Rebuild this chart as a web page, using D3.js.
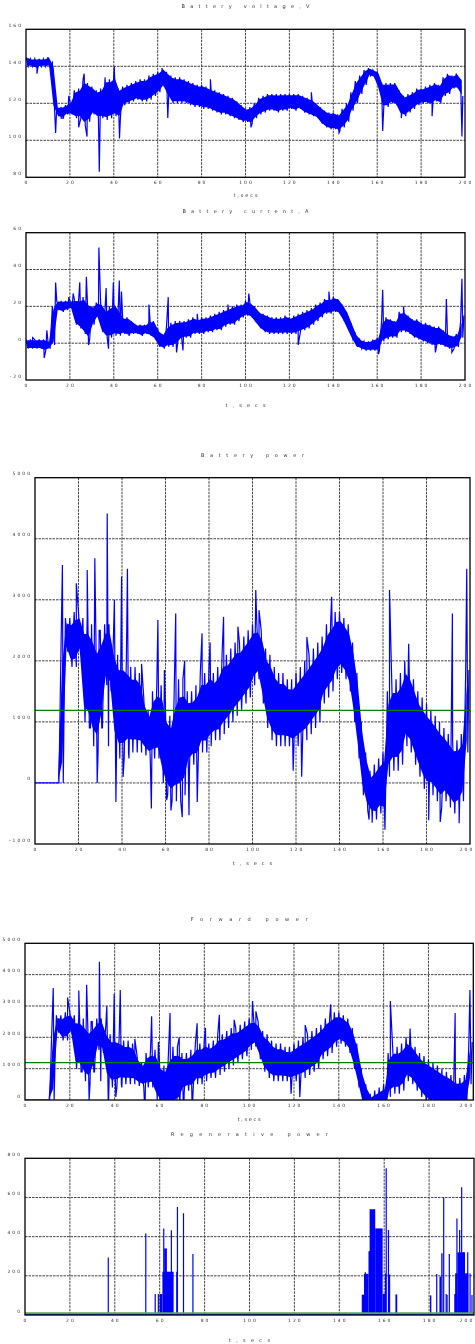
<!DOCTYPE html>
<html>
<head>
<meta charset="utf-8">
<script src="https://cdn.jsdelivr.net/npm/d3@7"></script>
<style>
  body { margin: 0; background: #fff; }
  svg { will-change: transform; }
  text { font-family: "DejaVu Sans", sans-serif; fill: #333; }
</style>
</head>
<body>
<svg id="chart" width="475" height="1344"></svg>
<script>
// sample bins, 2 s each (start time of bin)
const binT = d3.range(0, 200, 2);
const timeTicks = [0, 20, 40, 60, 80, 100, 120, 140, 160, 180, 200];

// battery voltage, V : upper / lower edge of the noisy band per bin
const voltHi = [145,144,144,144,144,145,142,118,118,119,121,127,128,133,131,129,127,128,133,133,
  135,128,129,130,131,132,133,133,135,136,137,139,137,135,134,134,133,132,131,130,
  130,129,128,127,126,125,124,123,121,119,117,118,120,123,124,125,125,125,125,125,
  125,125,125,124,123,122,120,118,116,115,115,114,117,120,126,132,135,138,139,138,
  137,131,131,131,131,127,124,125,126,128,128,129,130,131,130,134,136,135,136,133];
const voltLo = [140,140,139,140,140,140,117,113,112,114,114,112,112,108,110,114,112,112,111,112,
  113,112,119,120,121,122,121,121,122,124,126,129,124,120,120,120,120,119,118,118,
  117,117,116,115,114,114,113,112,111,110,110,109,112,114,115,116,116,115,116,116,
  117,116,117,115,114,113,112,109,107,106,106,105,107,110,116,120,125,130,135,134,
  128,118,118,120,119,114,113,115,117,119,120,120,119,121,120,124,125,128,128,124];
const voltSpikes = [[5,136],[13.5,104],[16,112],[19.5,124],[24,107],[26.5,136],[27.8,102],[33.4,83],
  [36,134],[40.2,140],[42.6,101],[64.6,112],[84,133],[102.5,107],[130,126],[142.6,104],
  [162.5,105],[171,112],[185,113],[198.6,102]];

// battery current, A
const currHi = [2,2,2,2,2,1,20,23,23,23,23,24,24,25,22,20,22,22,18,20,
  22,18,14,14,12,10,10,10,12,12,7,5,9,11,12,12,12,13,14,13,
  14,14,15,16,17,18,19,20,21,21,23,22,20,17,16,15,14,14,14,15,
  14,15,16,17,18,19,21,22,24,24,25,24,21,17,11,5,2,1,1,2,
  3,12,14,13,12,17,17,15,13,13,11,11,10,9,9,7,5,4,5,12];
const currLo = [-3,-3,-3,-3,-4,-3,-1,18,17,18,19,10,8,5,2,10,14,6,3,3,
  4,4,5,4,5,5,4,5,4,2,-2,-3,-2,-2,-1,2,3,3,5,5,
  5,6,6,7,7,9,10,10,12,14,15,14,11,8,6,5,5,5,5,5,
  5,5,6,7,8,10,12,14,16,16,17,16,12,7,2,-2,-3,-4,-4,-4,
  -4,1,2,3,3,6,6,5,3,2,1,0,-1,-2,-1,-2,-3,-3,-2,3];
const currSpikes = [[3,3],[8.3,-8],[9.5,7],[13.5,33],[19.5,25],[21.5,27],[24.5,33],[27.5,36],[28.5,-1],
  [33.2,52],[36.5,30],[37.6,-3],[39.8,33],[42.5,34],[43.5,28],[56,21],[60,8],[64.8,25],[68.6,-5],
  [71.5,-4],[78,16],[92,21],[101.5,27],[124,-1],[138,28],[160.6,-6],[162.5,29],[172,20],
  [186.5,-5],[191.5,24],[194,-5],[198.6,35],[199.5,15]];

// battery power, W (forward power panel shows the same signal above 0)
const powHi = [0,0,0,0,0,0,2300,2700,2700,2800,2800,2700,2700,2600,2400,2500,2600,2600,2300,2100,
  2100,2000,1900,1900,1800,1400,1200,1500,1600,1600,1200,1100,1500,1700,1700,1500,1500,1600,1800,1800,
  1900,1800,1900,2100,2100,2200,2300,2300,2400,2500,2600,2600,2500,2200,2100,1900,1800,1800,1700,1700,
  1800,1900,2000,2100,2200,2300,2400,2600,2700,2800,2800,2700,2600,2300,1800,1000,500,200,300,400,
  500,1500,1700,1700,1800,2000,1900,1700,1500,1400,1300,1200,1100,1000,900,800,700,700,800,1800];
const powLo = [0,0,0,0,0,0,0,2150,1900,1900,2100,1000,900,600,500,900,1600,1500,600,400,
  400,500,500,500,500,450,400,400,400,0,-200,-300,-300,-300,-200,200,300,300,500,500,
  600,700,700,800,900,1000,1100,1200,1300,1400,1600,1700,1300,900,700,600,600,600,600,550,
  600,650,700,800,900,1000,1300,1400,1500,1700,1800,1700,1500,1000,400,-200,-450,-550,-600,-500,
  -550,100,200,200,300,600,500,300,100,-100,-200,-200,-300,-400,-300,-400,-500,-450,-300,500];
const powSpikes = [[12.6,3570],[13.5,1680],[19,3270],[24,3490],[25.5,900],[27.5,3680],[28.6,0],
  [29.5,2500],[30.7,900],[33.2,4415],[33.8,600],[36.5,3000],[37.2,-310],[38,2000],[39.8,3380],
  [40.5,100],[42.5,3510],[43.2,400],[49,1950],[53.5,-420],[56.5,2670],[59.5,1850],[60.5,-280],
  [62.5,-450],[64.7,2775],[67.7,-560],[68.8,2000],[70.8,-530],[74.6,-310],[76.8,2450],[80.5,2300],
  [86.7,2720],[93.3,2560],[101.5,3160],[103,2830],[118.7,200],[122.6,100],[125,2390],[136.4,3050],
  [153.6,-600],[155,-650],[160.9,-765],[163,3160],[171.8,2280],[181,-610],[186.3,-640],
  [191.9,2775],[195,-660],[198.5,3510],[199.5,1850]];
const powMean = 1190;

// regenerative power, W : dense blocks [t0, t1, level] and single spikes [t, level]
const regenBlocks = [[60.0,61.2,107],[61.2,66.2,221],[62.0,63.2,340],[150.0,151.0,104],[151.0,153.0,210],
  [153.0,154.0,326],[153.5,156.0,540],[156.0,159.3,442],[159.3,160.5,107],[165.0,165.8,105],
  [180.4,181.0,100],[184.6,185.4,196],[185.4,186.0,315],[191.2,192.6,107],[191.6,192.6,213],
  [192.6,196.0,320],[196.0,197.5,213],[198.0,198.5,212]];
const regenSpikes = [[37.1,294],[53.8,416],[58.0,107],[59.4,107],[61.8,442],[65.2,433],[67.6,221],
  [67.9,552],[70.6,520],[74.8,311],[151.6,218],[160.6,212],[160.9,749],[161.9,434],[162.4,207],
  [183.4,209],[186.5,600],[187.6,107],[188.0,102],[189.0,311],[192.4,493],[193.6,434],[194.5,652],
  [195.4,320],[197.2,320],[199.1,102]];
const regenMean = 8;

const W = 475;
const svg = d3.select('#chart');

const makePanel = (id, box, yDomain, yTicks, title, titleW, xlab, xlabW, titleY, xlabY) => {
  const x = d3.scaleLinear().domain([0, 200]).range([box.l, box.r]);
  const y = d3.scaleLinear().domain(yDomain).range([box.b, box.t]);
  const g = svg.append('g');
  const cx = (box.l + box.r) / 2;

  g.append('clipPath').attr('id', id)
    .append('rect').attr('x', box.l).attr('y', box.t)
    .attr('width', box.r - box.l).attr('height', box.b - box.t);

  // grid
  g.append('g').selectAll('line').data(timeTicks.slice(1, -1)).enter().append('line')
    .attr('x1', d => x(d)).attr('x2', d => x(d)).attr('y1', box.t).attr('y2', box.b)
    .attr('stroke', '#444').attr('stroke-width', 1).attr('stroke-dasharray', '2.5,1');
  g.append('g').selectAll('line').data(yTicks.slice(1, -1)).enter().append('line')
    .attr('y1', d => y(d)).attr('y2', d => y(d)).attr('x1', box.l).attr('x2', box.r)
    .attr('stroke', '#444').attr('stroke-width', 1).attr('stroke-dasharray', '2.5,1');

  // tick labels (the last one is pulled in when it would run past the page edge)
  g.append('g').selectAll('text').data(timeTicks).enter().append('text')
    .attr('x', d => Math.min(x(d) + 1, W - 8)).attr('y', box.b + 7)
    .attr('text-anchor', 'middle').attr('font-size', '4.5px')
    .attr('letter-spacing', '2px').text(d => d);
  g.append('g').selectAll('text').data(yTicks).enter().append('text')
    .attr('x', box.l - 3).attr('y', d => y(d) - 2.5)
    .attr('text-anchor', 'end').attr('font-size', '4.5px')
    .attr('letter-spacing', '2px').text(d => d);

  g.append('text').attr('x', cx).attr('y', titleY).attr('text-anchor', 'middle')
    .attr('font-size', '5px').attr('textLength', titleW).attr('lengthAdjust', 'spacing')
    .text(title);
  g.append('text').attr('x', cx).attr('y', xlabY).attr('text-anchor', 'middle')
    .attr('font-size', '5px').attr('textLength', xlabW).attr('lengthAdjust', 'spacing')
    .text(xlab);

  const data = g.append('g').attr('clip-path', `url(#${id})`);
  const frame = () => g.append('rect').attr('x', box.l).attr('y', box.t)
    .attr('width', box.r - box.l).attr('height', box.b - box.t)
    .attr('fill', 'none').attr('stroke', '#000').attr('stroke-width', 1.3);
  return { x, y, data, frame };
};

// solid core (share of the band) plus a zigzag through the band edges and spikes
const drawBand = (p, hi, lo, spikes, core) => {
  const inset = (1 - core) / 2;
  const area = d3.area()
    .x((d, i) => p.x(binT[i] + 0.5))
    .y0((d, i) => p.y(lo[i] + (hi[i] - lo[i]) * inset))
    .y1((d, i) => p.y(hi[i] - (hi[i] - lo[i]) * inset));
  p.data.append('path').attr('d', area(hi)).attr('fill', '#0000ff');

  const pts = [];
  hi.forEach((h, i) => {
    pts.push([binT[i], h]);
    pts.push([binT[i] + 1, lo[i]]);
  });
  spikes.forEach(s => pts.push(s));
  pts.sort((a, b) => a[0] - b[0]);
  const line = d3.line().x(d => p.x(d[0])).y(d => p.y(d[1]));
  p.data.append('path').attr('d', line(pts))
    .attr('fill', 'none').attr('stroke', '#0000ff').attr('stroke-width', 1.2);
};

const meanLine = (p, v, w, c) => {
  p.data.append('line').attr('x1', p.x(0)).attr('x2', p.x(200))
    .attr('y1', p.y(v)).attr('y2', p.y(v))
    .attr('stroke', c).attr('stroke-width', w);
};

// 1 battery voltage
const p1 = makePanel('c1', { l: 26, r: 465, t: 29.3, b: 177.3 }, [80, 160], [80, 100, 120, 140, 160],
  'Battery voltage,V', 128, 't,secs', 24, 8, 197);
drawBand(p1, voltHi, voltLo, voltSpikes, 0.85);
p1.frame();

// 2 battery current
const p2 = makePanel('c2', { l: 26, r: 465, t: 232.7, b: 380 }, [-20, 60], [-20, 0, 20, 40, 60],
  'Battery current,A', 126, 't,secs', 40, 212.5, 406.5);
drawBand(p2, currHi, currLo, currSpikes, 0.85);
p2.frame();

// 3 battery power
const p3 = makePanel('c3', { l: 35, r: 470, t: 477.7, b: 844 }, [-1000, 5000],
  [-1000, 0, 1000, 2000, 3000, 4000, 5000], 'Battery power', 103, 't,secs', 39, 456.5, 864.5);
drawBand(p3, powHi, powLo, powSpikes, 0.7);
meanLine(p3, powMean, 1.3, '#008000');
p3.frame();

// 4 forward power
const p4 = makePanel('c4', { l: 25, r: 473.3, t: 943.3, b: 1100 }, [0, 5000],
  [0, 1000, 2000, 3000, 4000, 5000], 'Forward power', 117, 't,secs', 23, 921, 1120.5);
drawBand(p4, powHi, powLo, powSpikes, 0.7);
meanLine(p4, powMean, 1.3, '#008000');
p4.frame();

// 5 regenerative power
const p5 = makePanel('c5', { l: 25, r: 474, t: 1158.3, b: 1315 }, [0, 800],
  [0, 200, 400, 600, 800], 'Regenerative power', 157, 't,secs', 41, 1136, 1342);
p5.data.append('g').selectAll('rect').data(regenBlocks).enter().append('rect')
  .attr('x', d => p5.x(d[0])).attr('width', d => p5.x(d[1]) - p5.x(d[0]))
  .attr('y', d => p5.y(d[2])).attr('height', d => p5.y(0) - p5.y(d[2]))
  .attr('fill', '#0000ff');
p5.data.append('g').selectAll('line').data(regenSpikes).enter().append('line')
  .attr('x1', d => p5.x(d[0])).attr('x2', d => p5.x(d[0]))
  .attr('y1', p5.y(0)).attr('y2', d => p5.y(d[1]))
  .attr('stroke', '#0000ff').attr('stroke-width', 1.2);
meanLine(p5, regenMean, 2.2, '#5aa55a');
p5.data.append('line').attr('x1', p5.x(0)).attr('x2', p5.x(200))
  .attr('y1', p5.y(0)).attr('y2', p5.y(0)).attr('stroke', '#0000ff').attr('stroke-width', 1.5);
p5.frame();
</script>
</body>
</html>
